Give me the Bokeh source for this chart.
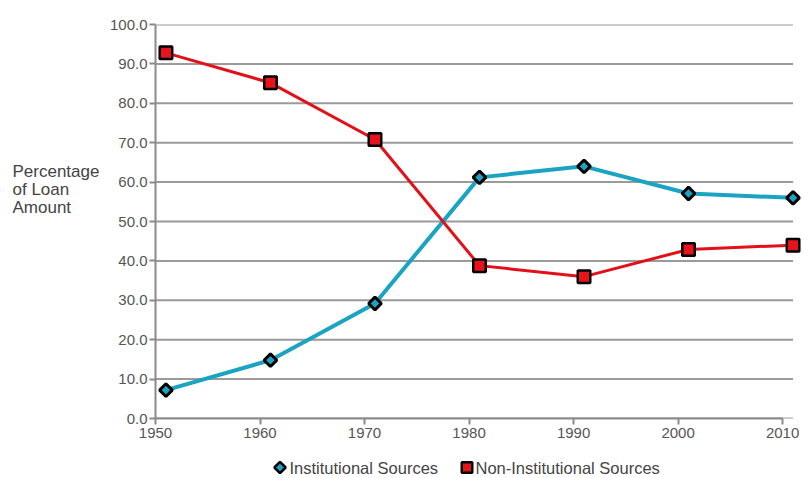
import math
from bokeh.plotting import figure
from bokeh.layouts import column, row
from bokeh.models import Range1d, Label, FixedTicker, NumeralTickFormatter
from bokeh.core.properties import value
from bokeh.embed import file_html
from bokeh.resources import INLINE

years = [1951, 1961, 1971, 1981, 1991, 2001, 2011]
institutional = [7.2, 14.8, 29.2, 61.2, 64.0, 57.1, 56.0]
non_institutional = [92.8, 85.2, 70.8, 38.8, 36.0, 42.9, 44.0]
x_ticks = [1950, 1960, 1970, 1980, 1990, 2000, 2010]
y_ticks = [0, 10, 20, 30, 40, 50, 60, 70, 80, 90, 100]
series_names = ["Institutional Sources", "Non-Institutional Sources"]
y_title = ["Percentage", "of Loan", "Amount"]

FONT = "Liberation Sans"
BLUE = "#1ba3c3"
RED = "#e3101a"
RED_FILL = "#e8141c"

# ---- y title panel (left); its frame is aligned with the main frame (24..418) ----
tf = figure(width=100, height=446, output_backend="svg", toolbar_location=None,
            x_range=Range1d(0, 100), y_range=Range1d(418, 24),
            x_axis_type=None, y_axis_type=None,
            min_border_left=0, min_border_right=0, min_border_top=24, min_border_bottom=28)
tf.grid.visible = False
tf.outline_line_color = None
for i, t in enumerate(y_title):
    tf.add_layout(Label(x=12, y=171 + 18 * i, text=t, text_font=FONT,
                        text_font_size="17px", text_color="#444444",
                        text_align="left", text_baseline="alphabetic"))

# ---- main plot ----
p = figure(width=703, height=446, output_backend="svg", toolbar_location=None,
           x_range=Range1d(1950, 2012), y_range=Range1d(0, 100),
           min_border_left=55, min_border_right=0, min_border_top=24, min_border_bottom=28)
p.outline_line_color = None
p.xgrid.visible = False
p.ygrid.visible = False

# horizontal grid lines spanning only the data extent
p.segment(x0=[x_ticks[0]] * len(y_ticks), x1=[years[-1]] * len(y_ticks),
          y0=y_ticks, y1=y_ticks, line_color="#9a9a9a", line_width=2)

for ax in (p.xaxis, p.yaxis):
    ax.axis_line_color = "#8a8a8a"
    ax.axis_line_width = 2
    ax.major_tick_line_color = "#8a8a8a"
    ax.major_tick_line_width = 2
    ax.major_tick_out = 6
    ax.major_tick_in = 0
    ax.minor_tick_line_color = None
    ax.major_label_text_color = "#555555"
    ax.major_label_text_font = FONT
    ax.major_label_text_font_size = "15px"

p.xaxis.ticker = FixedTicker(ticks=x_ticks)
p.xaxis.bounds = (x_ticks[0], x_ticks[-1])
p.xaxis.major_label_standoff = 3
p.yaxis.ticker = FixedTicker(ticks=y_ticks)
p.yaxis.formatter = NumeralTickFormatter(format="0.0")
p.yaxis.major_label_standoff = 2

# Institutional
p.line(years, institutional, line_color=BLUE, line_width=4)
p.scatter(years, institutional, marker="square", angle=math.pi / 4, size=9,
          fill_color=BLUE, line_color="black", line_width=3)

# Non-institutional
p.line(years, non_institutional, line_color=RED, line_width=3)
p.scatter(years, non_institutional, marker="square", size=12.5,
          fill_color=RED_FILL, line_color="black", line_width=2.5)

# ---- legend strip ----
lf = figure(width=803, height=30, output_backend="svg", toolbar_location=None,
            x_range=Range1d(0, 803), y_range=Range1d(0, 30),
            x_axis_type=None, y_axis_type=None,
            min_border_left=0, min_border_right=0, min_border_top=0, min_border_bottom=0)
lf.grid.visible = False
lf.outline_line_color = None
lf.scatter([279.5], [9], marker="square", angle=math.pi / 4, size=8,
           fill_color=BLUE, line_color="black", line_width=2.5)
lf.scatter([466.5], [9], marker="square", size=10.5,
           fill_color=RED_FILL, line_color="black", line_width=2.5)
lf.text(x=[289, 475], y=[9, 9], text=series_names, text_font=value(FONT),
        text_font_size="16.5px", text_color="#444444",
        text_align="left", text_baseline="middle")

layout = column(row(tf, p, spacing=0), lf, spacing=0)
open("out.html", "w").write(file_html(layout, INLINE))
